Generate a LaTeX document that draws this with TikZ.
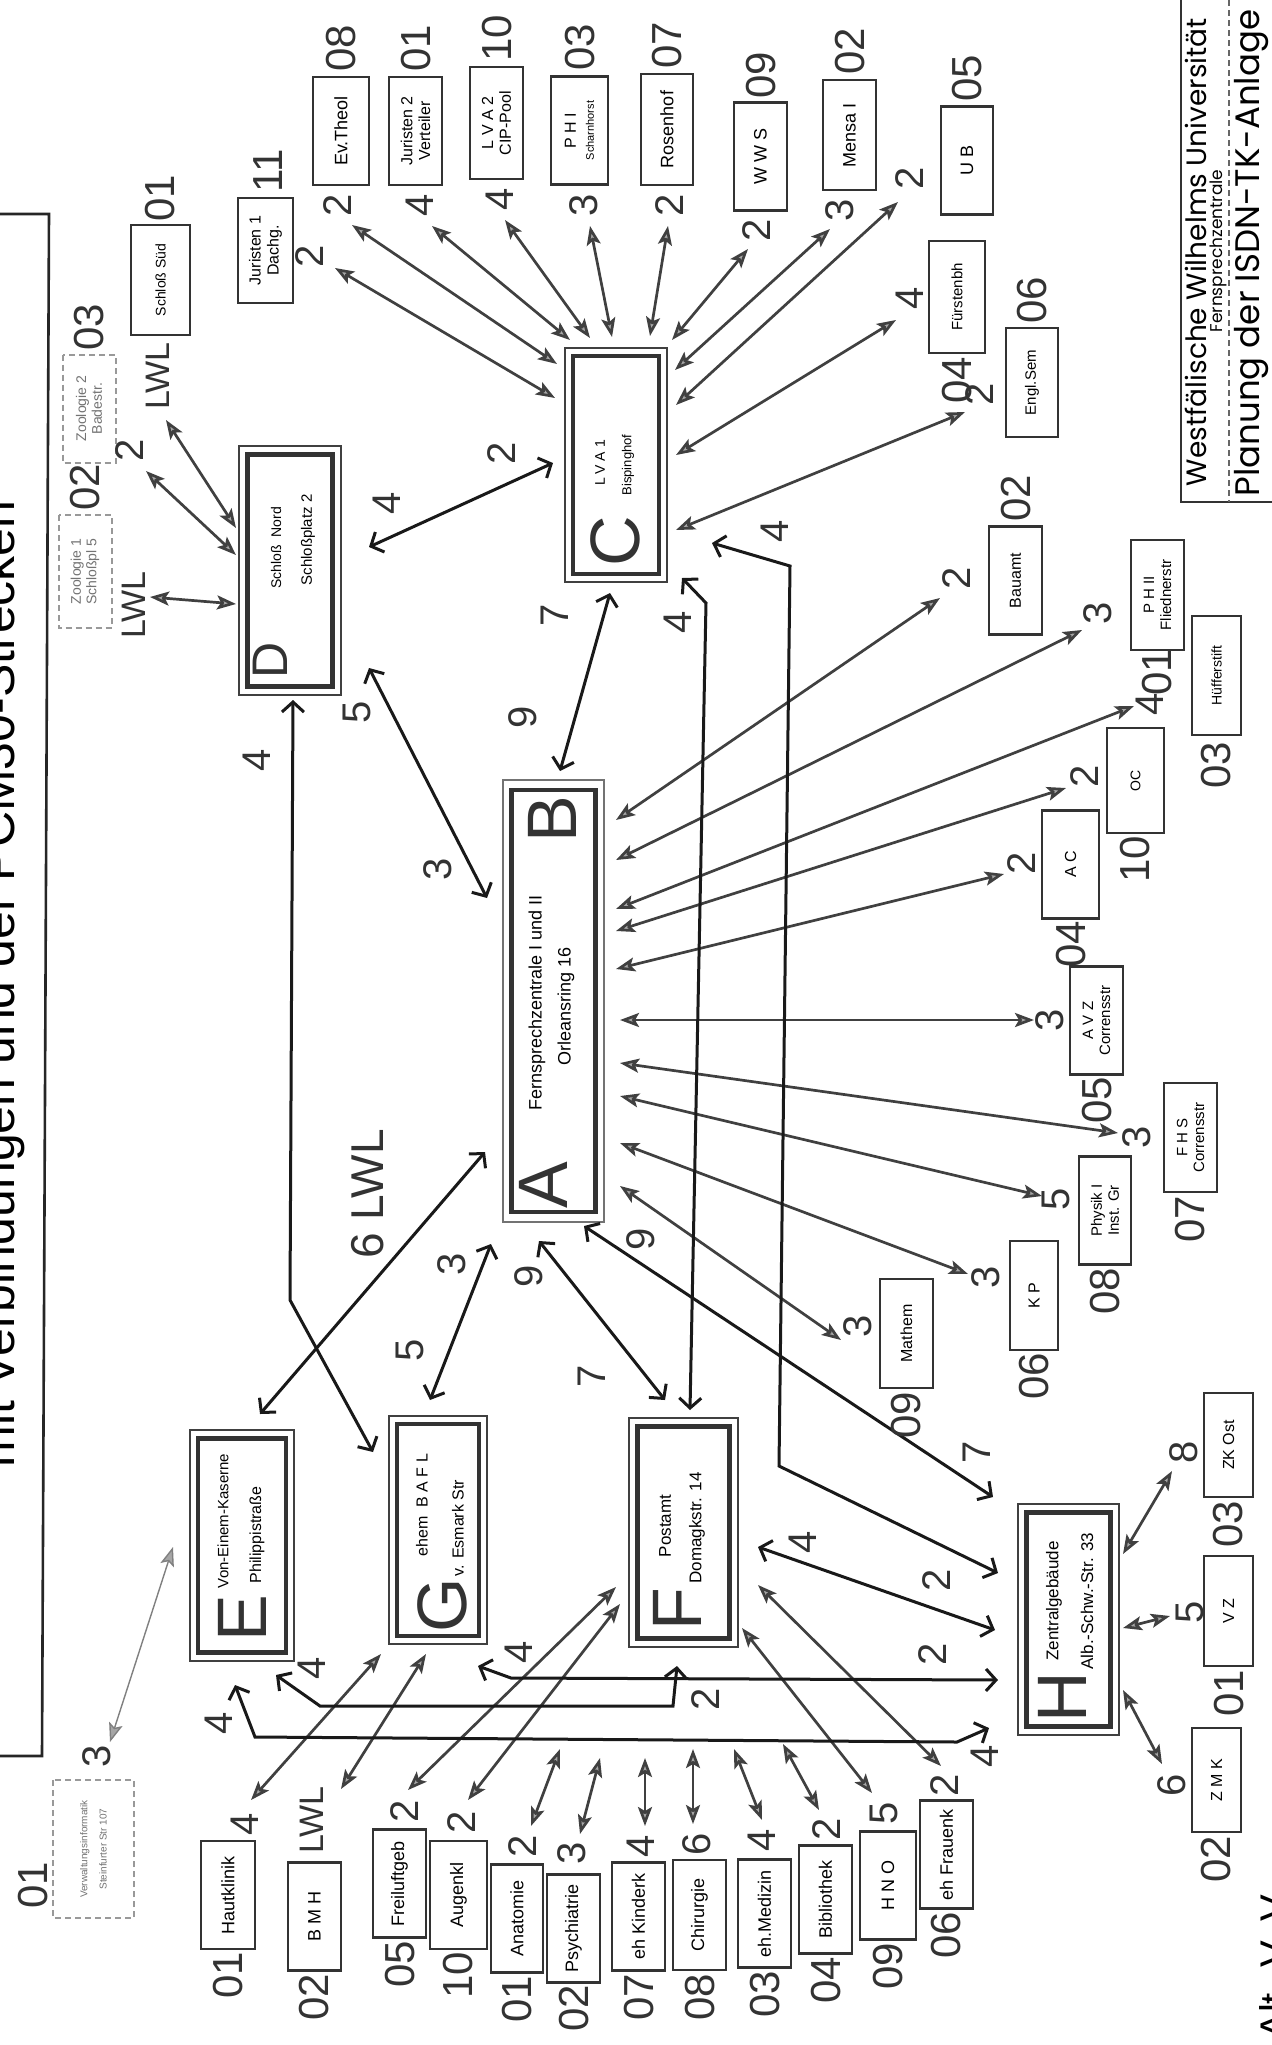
\documentclass[tikz,border=0pt]{standalone}
\usepackage{fontspec}
\setmainfont{Liberation Sans}
\newfontfamily\gothic{Poppins}
\usetikzlibrary{arrows.meta}
\newcommand{\setfs}[1]{\fontsize{#1}{\fpeval{1.12*#1}}\selectfont}

\tikzset{
  pbox/.style={draw=black!80, line width=1.3pt, fill=white, rotate=90, align=center,
    inner sep=1pt, minimum width=54pt, minimum height=26.5pt, font=\setfs{9}},
  faint/.style={draw=black!40, densely dashed, line width=1pt, text=black!55},
  hubframe/.style={draw=black!75, line width=0.7pt, fill=white, inner sep=0pt},
  hubcore/.style={draw=black!80, line width=2.2pt, inner sep=0pt},
  hubtext/.style={rotate=90, inner sep=0pt, font=\setfs{8}},
  hubletter/.style={rotate=90, inner sep=0pt, font=\setfs{35}, text=black!80},
  num/.style={rotate=90, inner sep=0pt, font=\setfs{20}, text=black!80},
  lwl/.style={rotate=90, inner sep=0pt, font=\setfs{17}, text=black!80},
  spoke/.style={draw=black!75, line width=1.35pt,
    >={Stealth[length=9.5pt,width=7pt,inset=2pt,fill=black!35]}, <->},
  trunk/.style={draw=black!90, line width=1.5pt,
    >={Straight Barb[length=5pt,width=11pt]}, <->},
}

\begin{document}
\begin{tikzpicture}[x=0.5pt,y=-0.5pt]
\useasboundingbox (0,0) rectangle (1272,2045);
\fill[white] (0,0) rectangle (1272,2045);

% title strip, cut off by the left edge of the sheet
\draw[black!85, line width=1.3pt] (0,214) -- (49,214) -- (42,1756) -- (0,1756);
\node[rotate=90, anchor=base east, inner sep=0pt, font=\setfs{25}] (title) at (14,500)
  {mit Verbindungen und der PCM30-Strecken};

% title block
\draw[black!80, line width=0.8pt] (1181,0) -- (1181,502) -- (1272,502);
\draw[black!60, densely dashed, line width=0.6pt] (1229,0) -- (1229,502);
\node[rotate=90, inner sep=0pt, font=\gothic\setfs{14}] (wwu) at (1196,252) {Westfälische Wilhelms Universität};
\node[rotate=90, inner sep=0pt, font=\gothic\setfs{8.5}] (fz) at (1218,251) {Fernsprechzentrale};
\node[rotate=90, inner sep=0pt, font=\gothic\setfs{17}] (plan) at (1251,253) {Planung der ISDN-TK-Anlage};
\node[rotate=90, anchor=north west, inner sep=0pt, font=\setfs{20}] (altv) at (1259,2040) {Alt. V. V};

% ---- hubs: thin frame, heavy inner frame, big letter
\node[hubframe, minimum width=51pt, minimum height=124.5pt] (D) at (290,570.5) {};
\node[hubcore, minimum width=42.5pt, minimum height=116pt] (D-in) at (D) {};
\node[hubletter, font=\setfs{25}] (D-l) at (270,660) {D};
\node[hubtext, font=\setfs{7}] (D-t1) at (276,548) {Schloß\ \ Nord};
\node[hubtext, font=\setfs{7.5}] (D-t2) at (308,540) {Schloßplatz 2};

\node[hubframe, minimum width=51pt, minimum height=117pt] (C) at (616,465) {};
\node[hubcore, minimum width=43pt, minimum height=109pt] (C-in) at (C) {};
\node[hubletter] (C-l) at (615,541) {C};
\node[hubtext, font=\setfs{7}] (C-t1) at (600,463) {L V A 1};
\node[hubtext, font=\setfs{6.5}] (C-t2) at (628,465) {Bispinghof};

\node[hubframe, draw=black!55, minimum width=50.5pt, minimum height=221pt] (AB) at (553.5,1001) {};
\node[hubcore, minimum width=42pt, minimum height=211pt] (AB-in) at (AB) {};
\node[hubletter] (B-l) at (552,819) {B};
\node[hubletter] (A-l) at (543,1185) {A};
\node[hubtext, font=\setfs{9}] (AB-t1) at (537,1003) {Fernsprechzentrale I und II};
\node[hubtext, font=\setfs{9}] (AB-t2) at (566,1006) {Orleansring 16};

\node[hubframe, minimum width=52pt, minimum height=115.5pt] (E) at (242,1545.5) {};
\node[hubcore, minimum width=44pt, minimum height=107pt] (E-in) at (E) {};
\node[hubletter] (E-l) at (242,1618) {E};
\node[hubtext, font=\setfs{7.5}] (E-t1) at (223,1521) {Von-Einem-Kaserne};
\node[hubtext] (E-t2) at (257,1535) {Philippistraße};

\node[hubframe, minimum width=49pt, minimum height=114pt] (G) at (438,1530) {};
\node[hubcore, minimum width=41pt, minimum height=106pt] (G-in) at (G) {};
\node[hubletter] (G-l) at (442,1605) {G};
\node[hubtext] (G-t1) at (422,1505) {ehem\ \ B A F L};
\node[hubtext] (G-t2) at (458,1528) {v. Esmark Str};

\node[hubframe, minimum width=54.5pt, minimum height=114.5pt] (F) at (683.5,1532.5) {};
\node[hubcore, minimum width=46pt, minimum height=106pt] (F-in) at (F) {};
\node[hubletter] (F-l) at (677,1609) {F};
\node[hubtext, font=\setfs{8.5}] (F-t1) at (665,1526) {Postamt};
\node[hubtext, font=\setfs{8.5}] (F-t2) at (697,1528) {Domagkstr. 14};

\node[hubframe, minimum width=50.5pt, minimum height=115.5pt] (H) at (1068.5,1619.5) {};
\node[hubcore, minimum width=42pt, minimum height=107pt] (H-in) at (H) {};
\node[hubletter] (H-l) at (1062,1697) {H};
\node[hubtext, font=\setfs{8.5}] (H-t1) at (1054,1601) {Zentralgebäude};
\node[hubtext, font=\setfs{8.5}] (H-t2) at (1087,1601) {Alb.-Schw.-Str. 33};

% ---- boxes round LVA1
\node[pbox, minimum width=52.5pt, minimum height=27.5pt, font=\setfs{8}] (jur1) at (265.5,250.5) {Juristen 1\\Dachg.};
\node[pbox, minimum height=28pt] (evth) at (341,131) {Ev.Theol};
\node[pbox, font=\setfs{8}] (jur2) at (415.5,131) {Juristen 2\\Verteiler};
\node[pbox, minimum width=56pt, font=\setfs{8}] (lva2) at (496.5,123) {L V A 2\\CIP-Pool};
\node[pbox, minimum height=28.5pt, font=\setfs{8}] (phi) at (579.5,130.5) {P H I\\{\setfs{5.5}Scharnhorst}};
\node[pbox, minimum width=55.5pt, minimum height=26pt] (rosen) at (667,129.5) {Rosenhof};
\node[pbox] (wws) at (760.5,156.5) {W W S};
\node[pbox, minimum width=55pt] (mensa) at (849.5,135) {Mensa I};
\node[pbox, minimum height=26pt] (ub) at (967,160.5) {U B};
\node[pbox, minimum width=56pt, minimum height=28pt, font=\setfs{7.5}] (fuerst) at (957,297) {Fürstenbh};
\node[pbox, minimum width=54.5pt, minimum height=26pt, font=\setfs{7.5}] (engl) at (1032,382.5) {Engl.Sem};

% ---- boxes round Schloss Nord
\node[pbox, minimum width=55pt, minimum height=29.5pt, font=\setfs{7}] (schsued) at (160.5,280) {Schloß Süd};
\node[pbox, faint, font=\setfs{7}] (zoo2) at (89,408.5) {Zoologie 2\\Badestr.};
\node[pbox, faint, minimum width=56.5pt, font=\setfs{7}] (zoo1) at (85,571.5) {Zoologie 1\\Schloßpl 5};

% ---- boxes round the Fernsprechzentrale
\node[pbox, font=\setfs{8}] (bauamt) at (1015.5,580.5) {Bauamt};
\node[pbox, minimum width=55pt, font=\setfs{7.5}] (phii) at (1157.5,595) {P H II\\Fliednerstr};
\node[pbox, minimum width=59.5pt, minimum height=24.5pt, font=\setfs{7}] (hueff) at (1216.5,675.5) {Hüfferstift};
\node[pbox, minimum width=52.5pt, minimum height=28.5pt, font=\setfs{7}] (oc) at (1135.5,780.5) {OC};
\node[pbox, minimum height=28.5pt, font=\setfs{8}] (ac) at (1070.5,864.5) {A C};
\node[pbox, font=\setfs{7.5}] (avz) at (1096.5,1020.5) {A V Z\\Corrensstr};
\node[pbox, minimum width=54.5pt, font=\setfs{7.5}] (fhs) at (1190.5,1137.5) {F H S\\Corrensstr};
\node[pbox, minimum height=26pt, font=\setfs{7.5}] (phys) at (1105,1210.5) {Physik I\\Inst. Gr};
\node[pbox, minimum width=54.5pt, minimum height=24pt, font=\setfs{8}] (kp) at (1034,1295.5) {K P};
\node[pbox, minimum width=54.5pt, font=\setfs{8}] (mathem) at (906.5,1333.5) {Mathem};

% ---- boxes round the Zentralgebaeude
\node[pbox, minimum width=52pt, minimum height=24.5pt, font=\setfs{8}] (zkost) at (1228.5,1445) {ZK Ost};
\node[pbox, minimum width=55pt, minimum height=24.5pt, font=\setfs{8}] (vz) at (1228.5,1611) {V Z};
\node[pbox, minimum width=52pt, minimum height=24.5pt, font=\setfs{8}] (zmk) at (1216.5,1780) {Z M K};

% ---- lower row
\node[pbox, faint, minimum width=69pt, minimum height=40.5pt, font=\setfs{5}] (verw) at (93.5,1849) {Verwaltungsinformatik\\[4pt]Steinfurter Str 107};
\node[pbox, minimum height=27pt] (haut) at (228,1895) {Hautklinik};
\node[pbox] (bmh) at (314.5,1916.5) {B M H};
\node[pbox] (frei) at (399.5,1883.5) {Freiluftgeb};
\node[pbox, minimum height=28.5pt] (augen) at (458.5,1895) {Augenkl};
\node[pbox, minimum height=26pt] (anat) at (517,1918.5) {Anatomie};
\node[pbox] (psych) at (573.5,1928.5) {Psychiatrie};
\node[pbox] (kind) at (638.5,1916.5) {eh Kinderk};
\node[pbox, minimum width=55pt] (chir) at (699.5,1915) {Chirurgie};
\node[pbox] (med) at (764.5,1913.5) {eh.Medizin};
\node[pbox] (bib) at (825.5,1899.5) {Bibliothek};
\node[pbox, minimum height=28pt] (hno) at (888,1885.5) {H N O};
\node[pbox] (frau) at (946.5,1854.5) {eh Frauenk};

% ---- end points of the connectors
\foreach \n/\p in {C-jur1/{555,398}, C-evth/{557,364}, C-jur2/{570,340}, C-lva2/{590,338},
    C-phi/{612,337}, C-rosen/{650,336}, C-wws/{672,340}, C-mensa/{675,370}, C-ub/{676,405},
    C-fuerst/{676,455}, C-engl/{676,530},
    jur1-C/{335,268}, evth-C/{352,225}, jur2-C/{432,226}, lva2-C/{505,220}, phi-C/{590,226},
    rosen-C/{668,226}, wws-C/{748,249}, mensa-C/{830,229}, ub-C/{898,202}, fuerst-C/{896,320},
    engl-C/{965,412},
    D-zoo1/{236,604}, zoo1-D/{150,597}, D-zoo2/{236,555}, zoo2-D/{146,471},
    D-schsued/{236,528}, schsued-D/{166,420},
    B-bauamt/{616,820}, B-phii/{616,860}, B-hueff/{616,909}, B-oc/{616,931}, B-ac/{616,969},
    B-avz/{620,1020}, B-fhs/{620,1063}, B-phys/{620,1096}, B-kp/{620,1143}, B-mathem/{620,1186},
    bauamt-B/{940,598}, phii-B/{1082,630}, hueff-B/{1134,706}, oc-B/{1066,788}, ac-B/{1004,874},
    avz-B/{1034,1020}, fhs-B/{1118,1133}, phys-B/{1042,1196}, kp-B/{968,1274}, mathem-B/{841,1340},
    H-zkost/{1123,1554}, zkost-H/{1172,1471}, H-vz/{1123,1628}, vz-H/{1170,1616},
    H-zmk/{1123,1690}, zmk-H/{1162,1764},
    G-haut/{381,1654}, haut-G/{251,1800}, G-bmh/{426,1654}, bmh-G/{341,1789},
    F-frei/{616,1587}, frei-F/{408,1790}, F-augen/{620,1604}, augen-F/{468,1800},
    F-hno/{742,1628}, hno-F/{872,1793}, F-frau/{758,1585}, frau-F/{941,1766},
    E-verw/{173,1547}, verw-E/{110,1742},
    bus-anat/{560,1749}, anat-bus/{531,1826}, bus-psych/{600,1758}, psych-bus/{580,1834},
    bus-kind/{645,1758}, kind-bus/{645,1826}, bus-chir/{693,1749}, chir-bus/{693,1824},
    bus-med/{734,1749}, med-bus/{762,1820}, bus-bib/{783,1744}, bib-bus/{819,1810}}
  \coordinate (\n) at (\p);

% trunk end points and bends
\foreach \n/\p in {D-C/{369,547}, C-D/{553,463}, D-AB/{369,668}, AB-D/{487,898},
    D-G/{293,700}, DG-bend/{290,1300}, G-D/{373,1452},
    AB-C/{560,771}, C-AB/{610,593}, AB-E/{485,1152}, E-AB/{260,1414},
    AB-G/{491,1244}, G-AB/{430,1400}, AB-F/{539,1241}, F-AB/{665,1400},
    AB-H/{584,1226}, H-AB/{993,1497},
    C-F/{682,578}, CF-bend/{706,603}, F-C/{690,1410},
    C-H/{712,543}, CH-bend1/{790,566}, CH-bend2/{779,1466}, H-C/{998,1573},
    F-H/{758,1547}, H-F/{995,1630},
    G-H/{478,1666}, GH-bend/{511,1678}, H-G/{998,1680},
    E-F/{276,1675}, EF-bend1/{320,1706}, EF-bend2/{673,1706}, F-E/{677,1666},
    E-H/{235,1685}, EH-bend1/{255,1737}, EH-bend2/{957,1742}, H-E/{989,1728}}
  \coordinate (\n) at (\p);

% ---- spokes
\foreach \t in {jur1,evth,jur2,lva2,phi,rosen,wws,mensa,ub,fuerst,engl}
  \draw[spoke] (C-\t) -- (\t-C);
\foreach \t in {zoo1,zoo2,schsued}
  \draw[spoke] (D-\t) -- (\t-D);
\foreach \t in {bauamt,phii,hueff,oc,ac,avz,fhs,phys,kp,mathem}
  \draw[spoke] (B-\t) -- (\t-B);
\foreach \t in {zkost,vz,zmk}
  \draw[spoke] (H-\t) -- (\t-H);
\foreach \t in {haut,bmh}
  \draw[spoke] (G-\t) -- (\t-G);
\foreach \t in {frei,augen,hno,frau}
  \draw[spoke] (F-\t) -- (\t-F);
\foreach \t in {anat,psych,kind,chir,med,bib}
  \draw[spoke] (bus-\t) -- (\t-bus);
\draw[spoke, line width=0.7pt, draw=black!50] (E-verw) -- (verw-E);

% ---- trunks between the hubs
\draw[trunk] (D-C) -- (C-D);
\draw[trunk] (D-AB) -- (AB-D);
\draw[trunk] (D-G) -- (DG-bend) -- (G-D);
\draw[trunk] (AB-C) -- (C-AB);
\draw[trunk] (AB-E) -- (E-AB);
\draw[trunk] (AB-G) -- (G-AB);
\draw[trunk] (AB-F) -- (F-AB);
\draw[trunk] (AB-H) -- (H-AB);
\draw[trunk] (C-F) -- (CF-bend) -- (F-C);
\draw[trunk] (C-H) -- (CH-bend1) -- (CH-bend2) -- (H-C);
\draw[trunk] (F-H) -- (H-F);
\draw[trunk] (G-H) -- (GH-bend) -- (H-G);
\draw[trunk] (E-F) -- (EF-bend1) -- (EF-bend2) -- (F-E);
\draw[trunk] (E-H) -- (EH-bend1) -- (EH-bend2) -- (H-E);

% ---- numbers of the boxes
\foreach \t/\p [count=\i] in {11/{268,171}, 08/{341,48}, 01/{416,48}, 10/{497,38}, 03/{580,47},
    07/{667,45}, 09/{761,75}, 02/{850,51}, 05/{967,78}, 04/{957,380}, 06/{1032,300},
    01/{160,198}, 03/{89,327}, 02/{85,487}, 02/{1016,498}, 01/{1157,672}, 03/{1216,765},
    10/{1135,859}, 04/{1071,944}, 05/{1097,1100}, 07/{1190,1219}, 08/{1105,1291},
    06/{1034,1376}, 09/{906,1415}, 03/{1228,1524}, 01/{1229,1693}, 02/{1216,1859},
    01/{228,1975}, 02/{314,1997}, 05/{400,1964}, 10/{458,1975}, 01/{517,1999},
    02/{574,2008}, 07/{639,1997}, 08/{700,1997}, 03/{765,1994}, 04/{826,1980},
    09/{888,1966}, 06/{946,1935}, 01/{33,1885}}
  \node[num, font=\setfs{21}] (no-\i) at (\p) {\t};

% ---- numbers of the lines
\foreach \t/\p [count=\i] in {2/{310,256}, 2/{338,205}, 4/{420,205}, 4/{500,199}, 3/{584,205},
    2/{670,205}, 2/{757,230}, 3/{840,210}, 2/{910,178}, 4/{910,298}, 2/{980,394},
    2/{130,450}, 4/{387,503}, 2/{502,453}, 5/{357,712}, 3/{438,869}, 4/{257,760},
    9/{523,717}, 7/{555,615}, 2/{957,578}, 3/{1098,613}, 4/{1150,704}, 2/{1085,776},
    2/{1022,863}, 3/{1050,1020}, 3/{1137,1137}, 5/{1056,1199}, 3/{986,1277}, 3/{858,1326},
    3/{452,1264}, 5/{410,1350}, 9/{529,1276}, 7/{592,1376}, 9/{641,1239}, 7/{977,1452},
    4/{678,622}, 4/{775,531}, 2/{937,1580}, 4/{803,1542}, 4/{519,1652}, 2/{933,1654},
    4/{312,1668}, 2/{706,1699}, 4/{219,1723}, 4/{985,1756}, 8/{1184,1452}, 5/{1190,1612},
    6/{1172,1785}, 4/{245,1824}, 2/{405,1811}, 2/{462,1822}, 2/{523,1846}, 3/{572,1853},
    4/{641,1846}, 6/{697,1844}, 4/{762,1840}, 2/{827,1829}, 5/{884,1813}, 2/{945,1785},
    3/{97,1756}}
  \node[num] (ln-\i) at (\p) {\t};

\node[lwl] (lwl-zoo1) at (134,605) {LWL};
\node[lwl] (lwl-schsued) at (158,376) {LWL};
\node[lwl] (lwl-bmh) at (312,1820) {LWL};
\node[lwl, font=\setfs{23}] (lwl-AE) at (368,1194) {6 LWL};
\end{tikzpicture}
\end{document}
